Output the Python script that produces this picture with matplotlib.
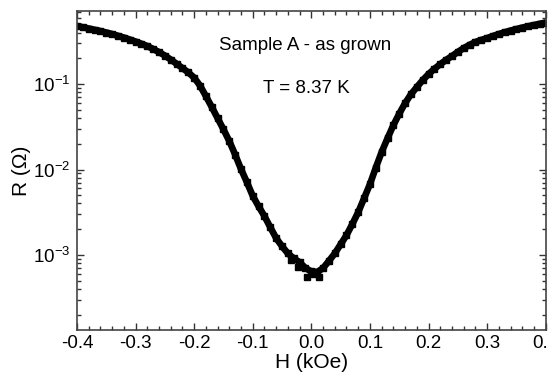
import matplotlib
matplotlib.use("Agg")
import matplotlib.pyplot as plt
from matplotlib.ticker import LogLocator, MultipleLocator, NullFormatter

plt.rcParams['font.family'] = ['Liberation Sans', 'DejaVu Sans']
plt.rcParams['mathtext.default'] = 'regular'
plt.rcParams['axes.unicode_minus'] = False

H = [-0.40, -0.39, -0.38, -0.37, -0.36, -0.35, -0.34, -0.33, -0.32, -0.31,
     -0.30, -0.29, -0.28, -0.27, -0.26, -0.25, -0.24, -0.23, -0.22, -0.21,
     -0.20, -0.19, -0.18, -0.17, -0.16, -0.15, -0.14, -0.13, -0.12, -0.11,
     -0.10, -0.09, -0.08, -0.07, -0.06, -0.05, -0.04, -0.03, -0.02, -0.01,
     0.00, 0.01, 0.02, 0.03, 0.04, 0.05, 0.06, 0.07, 0.08, 0.09,
     0.10, 0.11, 0.12, 0.13, 0.14, 0.15, 0.16, 0.17, 0.18, 0.19,
     0.20, 0.21, 0.22, 0.23, 0.24, 0.25, 0.26, 0.27, 0.28, 0.29,
     0.30, 0.31, 0.32, 0.33, 0.34, 0.35, 0.36, 0.37, 0.38, 0.39, 0.40]
R = [0.479, 0.463, 0.448, 0.433, 0.418, 0.402, 0.386, 0.368, 0.351, 0.333,
     0.315, 0.297, 0.279, 0.258, 0.237, 0.216, 0.194, 0.173, 0.154, 0.137,
     0.119, 0.096, 0.0723, 0.0540, 0.0399, 0.0295, 0.0215, 0.0149, 0.0101, 0.0071,
     0.0049, 0.0037, 0.00284, 0.0021, 0.00157, 0.00126, 0.00104, 0.00091, 0.00082, 0.00070,
     0.00064, 0.00063, 0.00070, 0.00085, 0.00104, 0.00133, 0.00170, 0.00230, 0.00316, 0.00460,
     0.00673, 0.0105, 0.0160, 0.0232, 0.0330, 0.0450, 0.0598, 0.0760, 0.0922, 0.111,
     0.131, 0.151, 0.171, 0.192, 0.213, 0.238, 0.264, 0.288, 0.311, 0.329,
     0.346, 0.366, 0.386, 0.405, 0.424, 0.441, 0.459, 0.476, 0.492, 0.509, 0.526]

# scattered points near the minimum
H_noise = [-0.007, 0.013, -0.022, 0.004, -0.035]
R_noise = [0.000546, 0.000546, 0.00072, 0.00060, 0.00088]

fig = plt.figure(figsize=(5.48, 3.76), dpi=100)
ax = fig.add_axes([0.1405, 0.1231, 0.8553, 0.8476])

ax.plot(H, R, color='black', lw=4.8, solid_capstyle='round', solid_joinstyle='round',
        marker='s', ms=4.2, mec='black', mfc='black')
ax.plot(H_noise, R_noise, ls='none', marker='s', ms=4, color='black')

ax.set_yscale('log')
ax.set_xlim(-0.4, 0.4)
ax.set_ylim(1.33e-4, 0.718)

ax.xaxis.set_major_locator(MultipleLocator(0.1))
ax.xaxis.set_minor_locator(MultipleLocator(0.02))
ax.xaxis.set_major_formatter(matplotlib.ticker.FuncFormatter(lambda v, p: f"{v:.1f}".replace("-0.0", "0.0")))
ax.yaxis.set_major_locator(LogLocator(base=10, numticks=10))
ax.yaxis.set_minor_locator(LogLocator(base=10, subs=range(2, 10), numticks=20))
ax.yaxis.set_minor_formatter(NullFormatter())

ax.tick_params(which='both', direction='in', top=True, right=True, width=1.0, color='#333333')
ax.tick_params(which='major', length=5, labelsize=13.5, pad=5)
ax.tick_params(axis='x', which='major', pad=4)
ax.tick_params(which='minor', length=3)
for s in ax.spines.values():
    s.set_linewidth(1.2)
    s.set_color('#444444')

ax.set_xlabel('H (kOe)', fontsize=15, labelpad=0.5)
ax.set_ylabel('R (\u03a9)', fontsize=15, labelpad=1)

ax.text(0.486, 0.893, 'Sample A - as grown', transform=ax.transAxes,
        ha='center', va='center', fontsize=13.5)
ax.text(0.49, 0.758, 'T = 8.37 K', transform=ax.transAxes,
        ha='center', va='center', fontsize=13.5)

fig.savefig('out.png', dpi=100)
